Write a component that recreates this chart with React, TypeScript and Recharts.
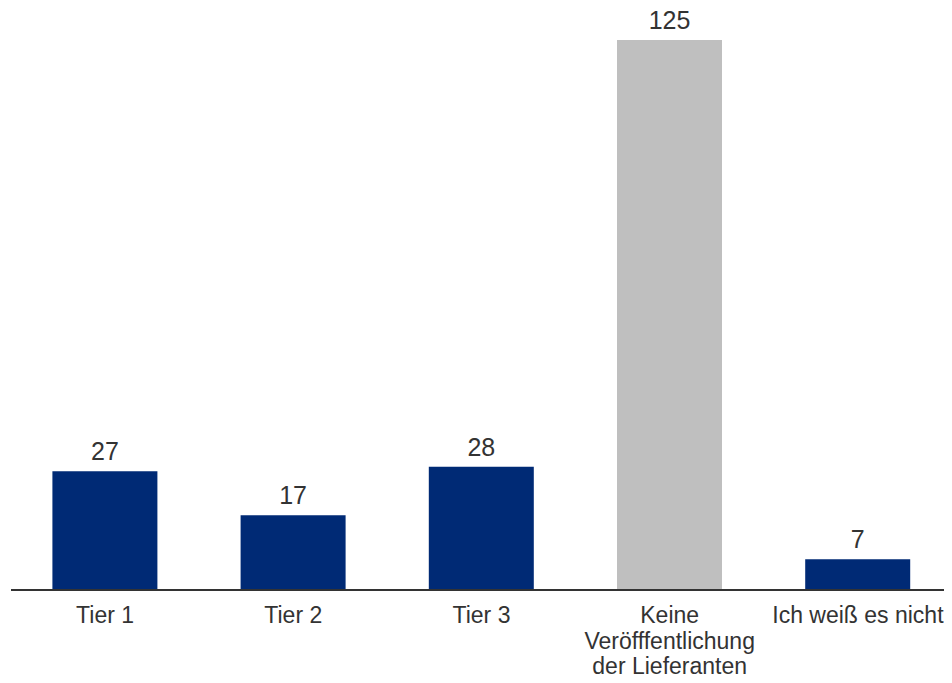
import { BarChart, Bar, XAxis, YAxis, Cell, LabelList } from 'recharts'

const categories = ['Tier 1', 'Tier 2', 'Tier 3', 'Keine\nVeröfffentlichung\nder Lieferanten', 'Ich weiß es nicht']
const counts = [27, 17, 28, 125, 7]
const barColors = ['#002A75', '#002A75', '#002A75', '#BFBFBF', '#002A75']

const data = categories.map((name, i) => ({ name, value: counts[i] }))

const FONT = '"Liberation Sans", Arial, sans-serif'

function MultiLineTick({ x, y, payload }: any) {
  const lines = String(payload.value).split('\n')
  return (
    <text x={x} y={y} textAnchor='middle' fill='#333333' fontSize={23} fontFamily={FONT}>
      {lines.map((line, i) => (
        <tspan key={i} x={x} dy={i === 0 ? 25 : 25.5}>
          {line}
        </tspan>
      ))}
    </text>
  )
}

export default function App() {
  // pull the chart into the page corner so the top label has room
  return (
    <div style={{ margin: '-8px 0 0 -8px', width: 952, height: 683 }}>
      <BarChart
        width={952}
        height={683}
        data={data}
        margin={{ top: 40, right: 0, bottom: 0, left: 11 }}
        barCategoryGap='22%'
      >
        <XAxis
          dataKey='name'
          axisLine={{ stroke: '#333333', strokeWidth: 2 }}
          tickLine={false}
          interval={0}
          height={93}
          tick={<MultiLineTick />}
        />
        <YAxis hide domain={[0, 125]} />
        <Bar dataKey='value' isAnimationActive={false}>
          {data.map((_, i) => (
            <Cell key={i} fill={barColors[i]} />
          ))}
          <LabelList
            dataKey='value'
            position='top'
            offset={11}
            fill='#333333'
            fontSize={25}
            fontFamily={FONT}
          />
        </Bar>
      </BarChart>
    </div>
  )
}
